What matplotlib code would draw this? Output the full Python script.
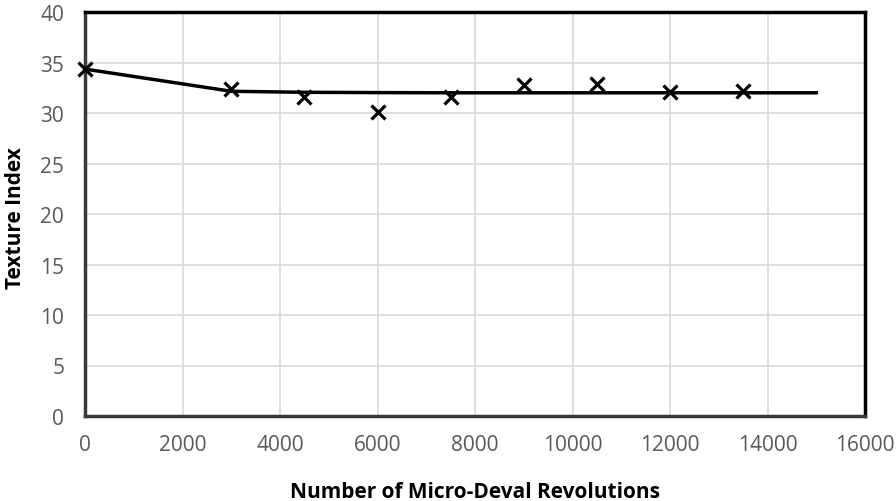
import matplotlib
matplotlib.use("Agg")
import matplotlib.pyplot as plt

# Measured data (markers)
revolutions = [0, 3000, 4500, 6000, 7500, 9000, 10500, 12000, 13500]
texture_index = [34.4, 32.4, 31.55, 30.1, 31.55, 32.8, 32.9, 32.1, 32.2]

# Fitted model line
fit_x = [0, 3000, 4500, 6000, 7500, 9000, 10500, 12000, 13500, 15000]
fit_y = [34.35, 32.15, 32.05, 32.02, 32.0, 32.0, 32.0, 32.0, 32.0, 32.0]

x_ticks = [0, 2000, 4000, 6000, 8000, 10000, 12000, 14000, 16000]
y_ticks = [0, 5, 10, 15, 20, 25, 30, 35, 40]

plt.rcParams['font.family'] = ['Open Sans', 'DejaVu Sans']

fig = plt.figure(figsize=(8.96, 5.02), dpi=100)
ax = fig.add_axes([85/896, 1 - 417/502, 780/896, 404/502])

ax.plot(fit_x, fit_y, color='black', linewidth=2.5, zorder=3)
ax.plot(revolutions, texture_index, linestyle='none', marker='x', color='black',
        markersize=10, markeredgewidth=2.3, zorder=4, clip_on=False)

ax.set_xlim(0, 16000)
ax.set_ylim(0, 40)
ax.set_xticks(x_ticks)
ax.set_yticks(y_ticks)
ax.grid(True, color='#d9d9d9', linewidth=1.2, zorder=0)
ax.set_axisbelow(True)

for side in ['top', 'right']:
    ax.spines[side].set_color('black')
    ax.spines[side].set_linewidth(2.5)
for side in ['left', 'bottom']:
    ax.spines[side].set_color('#3a3a3a')
    ax.spines[side].set_linewidth(2.5)

ax.tick_params(axis='both', length=0, labelsize=15, labelcolor='#595959')
ax.tick_params(axis='x', pad=13)
ax.tick_params(axis='y', pad=15)

fig.text(475/896, 1 - 493/502, 'Number of Micro-Deval Revolutions', fontsize=15,
         fontweight='bold', ha='center', va='center')
fig.text(16/896, 1 - 218/502, 'Texture Index', fontsize=15, fontweight='bold',
         ha='center', va='center', rotation=90)

fig.savefig('out.png', dpi=100)
